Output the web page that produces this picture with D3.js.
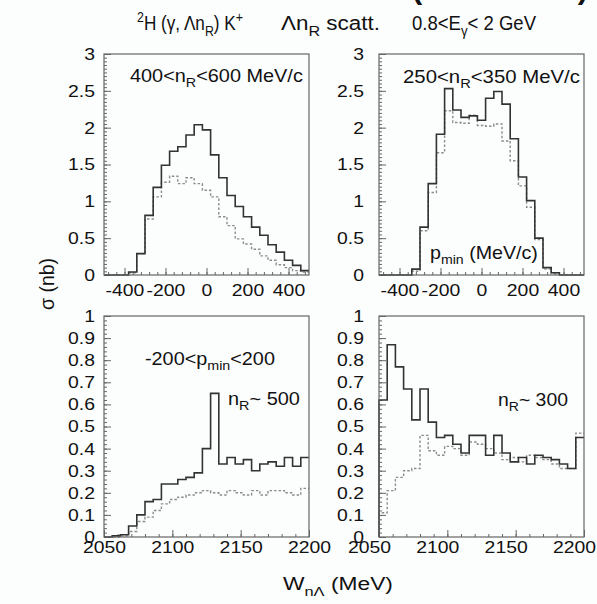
<!DOCTYPE html>
<html>
<head>
<meta charset="utf-8">
<script src="https://cdn.jsdelivr.net/npm/d3@7"></script>
<style>
  html, body { margin: 0; padding: 0; background: #fcfdfd; }
  svg { display: block; }
  text { font-family: "Liberation Sans", Arial, sans-serif; fill: #111; white-space: pre; }
</style>
</head>
<body>
<div id="chart"></div>
<script>
// bin edges: 25 bins in each panel
const pminRange = [-500, 500];
const wRange = [2050, 2200];
const nBins = 25;

// top left: 400<nR<600 MeV/c
const pmin400Solid = [0, 0, 0, 0.04, 0.29, 0.81, 1.19, 1.49, 1.68, 1.74, 1.90, 2.04, 1.97, 1.63, 1.32, 1.08, 0.93, 0.79, 0.65, 0.54, 0.41, 0.31, 0.20, 0.13, 0.06];
const pmin400Dash = [0, 0, 0, 0.03, 0.29, 0.76, 1.06, 1.26, 1.34, 1.24, 1.32, 1.24, 1.15, 1.06, 0.79, 0.67, 0.49, 0.42, 0.35, 0.26, 0.20, 0.14, 0.10, 0.06, 0.04];
// top right: 250<nR<350 MeV/c
const pmin250Solid = [0, 0, 0, 0, 0.08, 0.65, 1.24, 1.91, 2.53, 2.24, 2.14, 2.16, 2.10, 2.40, 2.49, 2.32, 1.85, 1.33, 1.01, 0.50, 0.10, 0.03, 0, 0, 0];
const pmin250Dash = [0, 0, 0, 0, 0.05, 0.60, 1.12, 1.66, 2.23, 2.07, 2.06, 2.17, 2.03, 2.02, 2.05, 1.82, 1.55, 1.21, 0.92, 0.48, 0.08, 0.02, 0, 0, 0];
// bottom left: nR ~ 500
const w500Solid = [0, 0.005, 0.01, 0.05, 0.10, 0.16, 0.17, 0.24, 0.24, 0.26, 0.27, 0.29, 0.40, 0.65, 0.33, 0.36, 0.33, 0.35, 0.30, 0.33, 0.34, 0.32, 0.36, 0.32, 0.36];
const w500Dash = [0, 0, 0.005, 0.025, 0.07, 0.09, 0.12, 0.15, 0.17, 0.18, 0.19, 0.20, 0.21, 0.20, 0.19, 0.21, 0.20, 0.19, 0.21, 0.19, 0.21, 0.21, 0.20, 0.19, 0.22];
// bottom right: nR ~ 300
const w300Solid = [0.62, 0.87, 0.77, 0.67, 0.53, 0.67, 0.52, 0.45, 0.46, 0.42, 0.38, 0.46, 0.46, 0.37, 0.46, 0.38, 0.34, 0.36, 0.33, 0.37, 0.36, 0.35, 0.33, 0.31, 0.45];
const w300Dash = [0.11, 0.21, 0.27, 0.30, 0.31, 0.46, 0.39, 0.37, 0.41, 0.40, 0.37, 0.43, 0.42, 0.40, 0.38, 0.35, 0.36, 0.34, 0.37, 0.36, 0.35, 0.33, 0.31, 0.31, 0.47];

// tick labels
const pminTicks = [-400, -200, 0, 200, 400];
const wTicks = [2050, 2100, 2150, 2200];
const sigmaTopTicks = [0, 0.5, 1, 1.5, 2, 2.5, 3];
const sigmaBottomTicks = [0, 0.1, 0.2, 0.3, 0.4, 0.5, 0.6, 0.7, 0.8, 0.9, 1];

const width = 597, height = 604;
const svg = d3.select("#chart").append("svg")
    .attr("width", width)
    .attr("height", height);

const pw = 205, ph = 221;
const stretch = 1.14;

// text with sub/superscript pieces, squeezed or stretched to a target width
function richText(g, x, y, parts, size, targetW) {
    const t = g.append("text")
        .attr("x", 0).attr("y", 0)
        .attr("font-size", size);
    let shift = 0;
    parts.forEach(p => {
        let want = 0;
        if (p.sub) want = size * 0.3;
        if (p.sup) want = -size * 0.4;
        const ts = t.append("tspan").text(p.t).attr("dy", want - shift);
        if (p.sub || p.sup) ts.attr("font-size", size * 0.72);
        shift = want;
    });
    const w = t.node().getComputedTextLength();
    const sx = targetW ? targetW / w : stretch;
    t.attr("transform", "translate(" + x + "," + y + ") scale(" + sx + ",1)");
    return t;
}

function panel(opt) {
    const g = svg.append("g").attr("transform", "translate(" + opt.x + "," + opt.y + ")");
    const x = d3.scaleLinear().domain(opt.xDomain).range([0, pw]);
    const y = d3.scaleLinear().domain(opt.yDomain).range([ph, 0]);

    // minor ticks
    g.append("g").attr("class", "axis")
        .attr("transform", "translate(0," + ph + ")")
        .call(d3.axisBottom(x).tickValues(d3.range(opt.xMinor[0], opt.xMinor[1] + 0.001, opt.xMinor[2])).tickSize(-3).tickFormat(""));
    g.append("g").attr("class", "axis")
        .call(d3.axisLeft(y).tickValues(d3.range(0, opt.yDomain[1] + 1e-6, opt.yMinor)).tickSize(-3).tickFormat(""));

    // major ticks with labels
    const xa = g.append("g").attr("class", "axis")
        .attr("transform", "translate(0," + ph + ")")
        .call(d3.axisBottom(x).tickValues(opt.xTicks).tickSize(-7).tickPadding(opt.xPad).tickFormat(d => String(d)));
    const ya = g.append("g").attr("class", "axis")
        .call(d3.axisLeft(y).tickValues(opt.yTicks).tickSize(-7).tickPadding(opt.yPad / stretch).tickFormat(d => String(Math.round(d * 10) / 10)));

    g.selectAll(".axis .domain").remove();
    g.selectAll(".axis line").attr("stroke", "#666");
    g.selectAll(".axis text").attr("font-size", 17).attr("fill", "#111")
        .attr("font-family", "Liberation Sans, Arial, sans-serif");
    xa.selectAll("text").attr("transform", "translate(" + opt.xShift + ",0) scale(" + stretch + ",1)");
    ya.selectAll("text").attr("transform", "scale(" + stretch + ",1)");

    const edges = d3.range(nBins + 1).map(i => opt.xDomain[0] + i * (opt.xDomain[1] - opt.xDomain[0]) / nBins);
    const line = d3.line()
        .x(d => x(d[0]))
        .y(d => y(d[1]))
        .curve(d3.curveStepAfter);
    function pts(vals) {
        const p = [[edges[0], 0]];
        vals.forEach((v, i) => p.push([edges[i], v]));
        p.push([edges[nBins], vals[nBins - 1]]);
        return p;
    }

    g.append("path")
        .datum(pts(opt.dash))
        .attr("fill", "none")
        .attr("stroke", "#8c8c8c")
        .attr("stroke-width", 1.4)
        .attr("stroke-dasharray", "2.5,2")
        .attr("d", line);

    g.append("path")
        .datum(pts(opt.solid))
        .attr("fill", "none")
        .attr("stroke", "#333")
        .attr("stroke-width", 1.6)
        .attr("d", line);

    g.append("rect")
        .attr("width", pw).attr("height", ph)
        .attr("fill", "none")
        .attr("stroke", "#666")
        .attr("stroke-width", 1.2);
    return g;
}

panel({ x: 104, y: 54, xDomain: pminRange, yDomain: [0, 3], xTicks: pminTicks, yTicks: sigmaTopTicks,
    xMinor: [-480, 480, 40], yMinor: 0.05, xPad: 9, xShift: 0, yPad: 9, solid: pmin400Solid, dash: pmin400Dash });
panel({ x: 379, y: 54, xDomain: pminRange, yDomain: [0, 3], xTicks: pminTicks, yTicks: sigmaTopTicks,
    xMinor: [-480, 480, 40], yMinor: 0.05, xPad: 9, xShift: 0, yPad: 15, solid: pmin250Solid, dash: pmin250Dash });
panel({ x: 104, y: 316, xDomain: wRange, yDomain: [0, 1], xTicks: wTicks, yTicks: sigmaBottomTicks,
    xMinor: [2050, 2200, 10], yMinor: 0.02, xPad: 4, xShift: 0, yPad: 9, solid: w500Solid, dash: w500Dash });
panel({ x: 379, y: 316, xDomain: wRange, yDomain: [0, 1], xTicks: wTicks, yTicks: sigmaBottomTicks,
    xMinor: [2050, 2200, 10], yMinor: 0.02, xPad: 4, xShift: -10, yPad: 15, solid: w300Solid, dash: w300Dash });

// annotations
richText(svg, 130, 82, [{ t: "400<n" }, { t: "R", sub: true }, { t: "<600 MeV/c" }], 17.5, 173);
richText(svg, 403, 83, [{ t: "250<n" }, { t: "R", sub: true }, { t: "<350 MeV/c" }], 17.5, 177);
richText(svg, 430, 259, [{ t: "p" }, { t: "min", sub: true }, { t: " (MeV/c)" }], 17.5, 108);
richText(svg, 145, 365, [{ t: "-200<p" }, { t: "min", sub: true }, { t: "<200" }], 17.5, 130);
richText(svg, 228, 405, [{ t: "n" }, { t: "R", sub: true }, { t: "~ 500" }], 17.5, 72);
richText(svg, 498, 406, [{ t: "n" }, { t: "R", sub: true }, { t: "~ 300" }], 17.5, 70);

// title, three groups
richText(svg, 137, 30, [{ t: "2", sup: true }, { t: "H (γ, Λn" }, { t: "R", sub: true }, { t: ") K" }, { t: "+", sup: true }], 20, 106);
richText(svg, 281, 30, [{ t: "Λn" }, { t: "R", sub: true }, { t: " scatt." }], 20, 99);
richText(svg, 412, 30, [{ t: "0.8<E" }, { t: "γ", sub: true }, { t: "< 2 GeV" }], 20, 124);

// clipped heading at the very top
svg.append("text")
    .attr("x", 412).attr("y", -1)
    .attr("font-size", 30).attr("font-weight", "bold")
    .attr("textLength", 176)
    .attr("lengthAdjust", "spacingAndGlyphs")
    .text("(CLAS data)");

// axis titles
richText(svg, 0, 0, [{ t: "σ (nb)" }], 20, 52)
    .attr("transform", function () {
        const w = this.getComputedTextLength();
        return "translate(54,310) rotate(-90) scale(" + (52 / w) + ",1)";
    });
richText(svg, 283, 590, [{ t: "W" }, { t: "nΛ", sub: true }, { t: " (MeV)" }], 19, 110);
</script>
</body>
</html>
